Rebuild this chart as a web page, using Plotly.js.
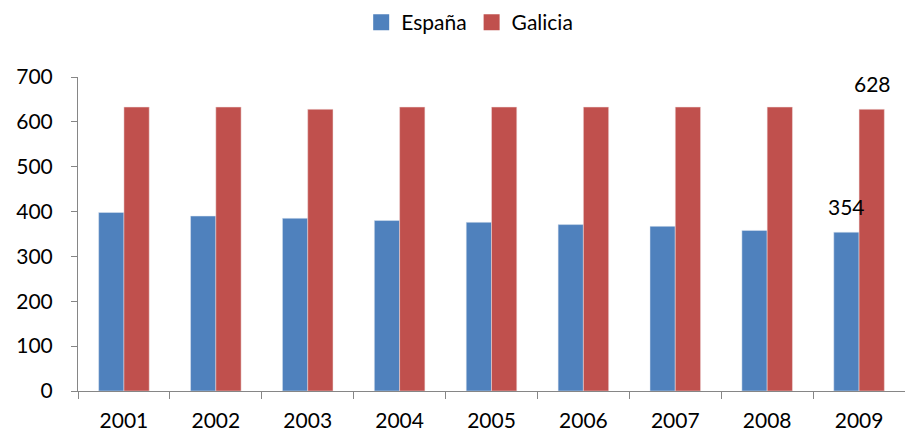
<!DOCTYPE html>
<html><head><meta charset="utf-8">
<script src="https://cdn.plot.ly/plotly-3.0.1.min.js"></script>
<style>html,body{margin:0;padding:0;background:#fff}</style>
</head><body><div id="chart" style="width:905px;height:434px"></div>
<script>
const years = ['2001','2002','2003','2004','2005','2006','2007','2008','2009'];
const espana = [398, 390, 385, 380, 376, 371, 367, 358, 354];
const galicia = [633, 633, 628, 633, 633, 633, 633, 633, 628];
const espanaLabels = ['', '', '', '', '', '', '', '', '354'];
const galiciaLabels = ['', '', '', '', '', '', '', '', '628'];
const yTicks = [0, 100, 200, 300, 400, 500, 600, 700];
const seriesNames = ['España', 'Galicia'];
const seriesColors = ['#4F81BD', '#C0504D'];

const font = {family: 'Lato, Carlito, "Open Sans", sans-serif', size: 21, color: '#000'};
const traces = [
  {type: 'bar', name: seriesNames[0], x: years, y: espana, showlegend: false, legendgroup: 'a',
   marker: {color: seriesColors[0], line: {color: '#dfe6f0', width: 0.5}}, hoverinfo: 'none'},
  {type: 'bar', name: seriesNames[1], x: years, y: galicia, showlegend: false, legendgroup: 'b',
   marker: {color: seriesColors[1], line: {color: '#f0dede', width: 0.5}}, hoverinfo: 'none'},
  {type: 'scatter', mode: 'markers', name: seriesNames[0], x: [null], y: [null], legendgroup: 'a',
   marker: {symbol: 'square', size: 16, color: seriesColors[0]}, hoverinfo: 'none'},
  {type: 'scatter', mode: 'markers', name: seriesNames[1], x: [null], y: [null], legendgroup: 'b',
   marker: {symbol: 'square', size: 16, color: seriesColors[1]}, hoverinfo: 'none'}
];
const annotations = [];
[[espanaLabels, espana, -13], [galiciaLabels, galicia, 13]].forEach(([labels, vals, dx]) => {
  labels.forEach((t, i) => {
    if (t) annotations.push({x: i, y: vals[i], text: t, showarrow: false,
      xref: 'x', yref: 'y', xshift: dx, yshift: 26, font: font});
  });
});
const layout = {
  width: 905, height: 434,
  margin: {l: 78, r: 0, t: 77, b: 43},
  paper_bgcolor: '#fff', plot_bgcolor: '#fff',
  font: font,
  barmode: 'group', bargap: 0.45, bargroupgap: 0,
  showlegend: true,
  legend: {orientation: 'h', x: 0.519, xanchor: 'center', xref: 'container',
           y: 0.948, yanchor: 'middle', yref: 'container',
           font: font, itemwidth: 20, traceorder: 'normal', itemclick: false},
  annotations: annotations,
  xaxis: {type: 'category', range: [-0.5, years.length - 0.5], showgrid: false, showline: true,
          linecolor: '#868686', linewidth: 1,
          ticks: 'outside', tickson: 'boundaries', ticklen: 7, tickcolor: '#868686',
          tickfont: font, ticklabelstandoff: 11, zeroline: false},
  yaxis: {range: [0, 700], tickvals: yTicks, showgrid: false, showline: true,
          linecolor: '#868686', linewidth: 1, ticks: 'outside', ticklen: 6, tickcolor: '#868686',
          tickfont: font, zeroline: false, ticklabelstandoff: 14}
};
Plotly.newPlot('chart', traces, layout, {displayModeBar: false, staticPlot: true});
</script></body></html>
